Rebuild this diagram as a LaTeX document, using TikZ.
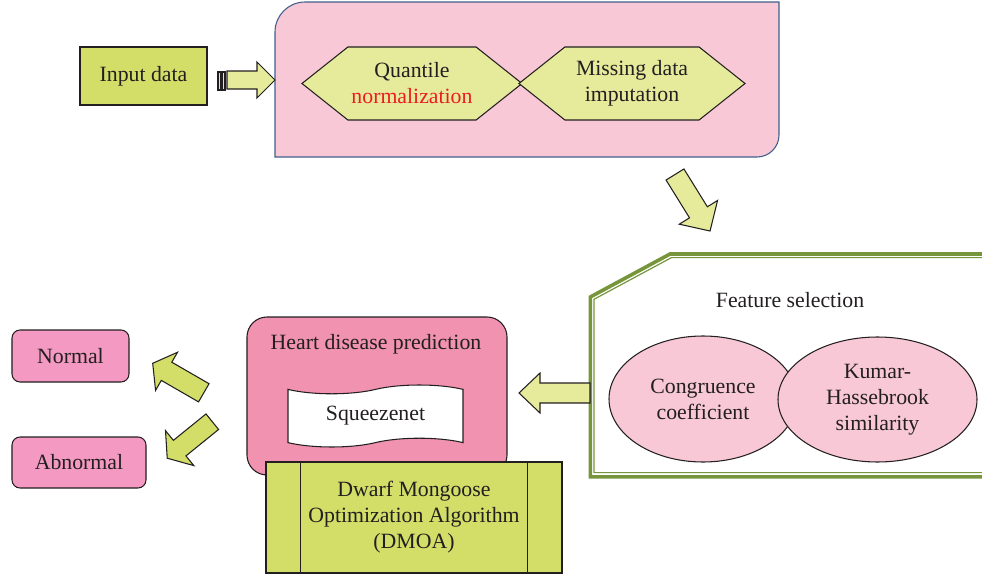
\documentclass[tikz,border=0pt]{standalone}
\usepackage{fontspec}
\setmainfont{Liberation Serif}
\usepackage{xcolor}
\usepackage{tikz}
\usetikzlibrary{positioning,calc,shapes.geometric,shapes.symbols}
\definecolor{inkdark}{RGB}{35,31,32}
\definecolor{limefill}{RGB}{210,222,104}
\definecolor{palelime}{RGB}{230,235,155}
\definecolor{blushpink}{RGB}{248,200,214}
\definecolor{rosepink}{RGB}{240,146,176}
\definecolor{candypink}{RGB}{244,154,194}
\definecolor{framegreen}{RGB}{119,150,59}
\definecolor{prepblue}{RGB}{63,95,138}
\definecolor{normred}{RGB}{237,28,36}

% block arrow: tail, angle, length, shaft half, head half, head length, style
\newcommand{\blockarrow}[7]{%
  \draw[#7, shift={#1}, rotate=#2] (0,-#4) -- ({#3-#6},-#4) -- ({#3-#6},-#5) -- (#3,0)
    -- ({#3-#6},#5) -- ({#3-#6},#4) -- (0,#4) -- cycle;}

\begin{document}
\begin{tikzpicture}[x=0.2mm, y=-0.2mm, line join=miter,
    every node/.style={font=\fontsize{12.4}{14.8}\selectfont, text=inkdark},
    box/.style={draw=inkdark, line width=0.6pt, align=center, inner sep=0pt},
    hexa/.style={box, signal, signal to=west and east, signal pointer angle=77,
      fill=palelime, minimum width=44mm, minimum height=14.6mm},
    oval/.style={box, ellipse, fill=blushpink},
    arrowlight/.style={draw=inkdark, line width=0.6pt, fill=palelime},
    arrowlime/.style={draw=inkdark, line width=0.6pt, fill=limefill}]
  \clip (0,0) rectangle (982,578);

  % Input and preprocessing
  \node[box, fill=limefill, minimum width=25.4mm, minimum height=11.6mm] (input) at (143.5,76) {Input data};
  \draw[draw=prepblue, line width=0.6pt, fill=blushpink] (275,157) -- (275,80) [rounded corners=6mm] -- (275,2)
    -- (420,2) [sharp corners] -- (779,2) -- (779,80) [rounded corners=4.4mm] -- (779,157) -- (600,157)
    [sharp corners] -- cycle;
  \node[hexa] (quant) at (412,83.5) {Quantile\\\textcolor{normred}{normalization}};
  \node[hexa, minimum width=45.2mm] (impute) at (632,83.5) {Missing data\\imputation};

  \draw[arrowlight] (218,72) rectangle (221,90);
  \draw[arrowlight] (222.5,72) rectangle (225,90);
  \blockarrow{(227,80)}{0}{48}{9}{18}{18}{arrowlight}
  \blockarrow{(675,174.5)}{-58.2}{66.5}{10.5}{22.5}{22}{arrowlight}

  % Feature selection
  \draw[framegreen, line width=0.72mm] (990,254) -- (670,254) -- (590.3,297) -- (590.3,476.8) -- (990,476.8);
  \draw[framegreen, line width=0.24mm] (990,257.6) -- (671.5,257.6) -- (594,299.3) -- (594,472.6) -- (990,472.6);
  \node (featlbl) at (790,300) {Feature selection};
  \node[oval, minimum width=37.6mm, minimum height=25.2mm] (congr) at (703,399) {Congruence\\coefficient};
  \node[oval, minimum width=39.8mm, minimum height=25mm] (kumar) at (877.5,399.5) {Kumar-\\Hassebrook\\similarity};

  \blockarrow{(590,393)}{180}{71}{10}{20}{21}{arrowlight}

  % Prediction
  \node[box, rounded corners=4mm, fill=rosepink, minimum width=52mm, minimum height=31.6mm] (heart) at (377,396) {};
  \node (heartlbl) at (376,344) {Heart disease prediction};
  \node[box, tape, fill=white, minimum width=35mm, minimum height=12.4mm] (squeeze) at (375.5,416) {Squeezenet};
  \node[box, fill=limefill, minimum width=59.2mm, minimum height=22.2mm] (dmoa) at (414,517.5)
    {Dwarf Mongoose\\Optimization Algorithm\\(DMOA)};
  \draw[inkdark, line width=0.6pt] ($(dmoa.north west)+(35,0)$) -- ($(dmoa.south west)+(35,0)$);
  \draw[inkdark, line width=0.6pt] ($(dmoa.north east)-(35,0)$) -- ($(dmoa.south east)-(35,0)$);

  % Outcomes
  \node[box, rounded corners=1.6mm, fill=candypink, minimum width=23.4mm, minimum height=10.4mm] (normal) at (70.5,356) {Normal};
  \node[box, rounded corners=1.6mm, fill=candypink, minimum width=26.8mm, minimum height=10.2mm] (abnormal) at (79,462.5) {Abnormal};
  \blockarrow{(203.8,392.8)}{150}{59}{10.5}{22}{16}{arrowlime}
  \blockarrow{(212.3,421.7)}{219}{58}{10}{22.5}{16}{arrowlime}
\end{tikzpicture}
\end{document}
